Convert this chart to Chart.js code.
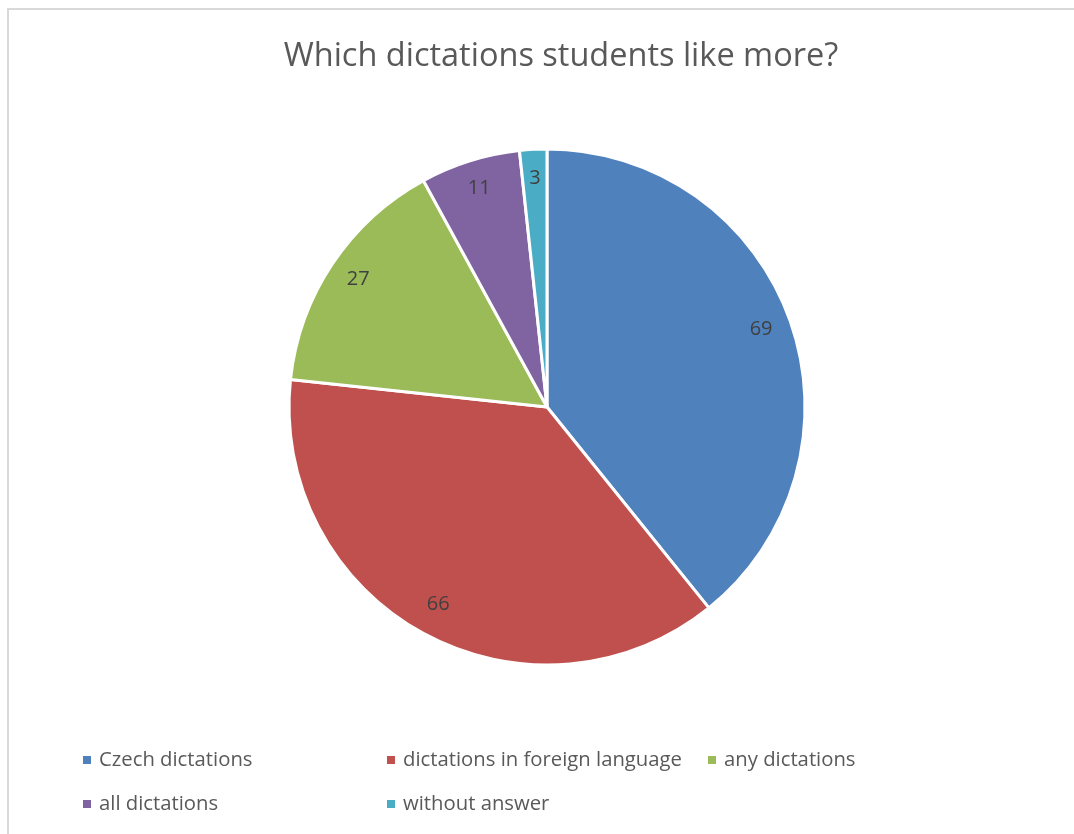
<!DOCTYPE html>
<html>
<head>
<meta charset="utf-8">
<script src="https://cdn.jsdelivr.net/npm/chart.js@4.4.0/dist/chart.umd.min.js"></script>
<style>
  html, body { margin: 0; padding: 0; background: #fff; overflow: hidden; }
  #wrap { position: relative; width: 1074px; height: 834px; }
  #frame { position: absolute; left: 7px; top: 8px; width: 1200px; height: 1000px;
           border: 2px solid #d9d9d9; box-sizing: border-box; }
  canvas { position: absolute; left: 0; top: 0; }
</style>
</head>
<body>
<div id="wrap">
  <div id="frame"></div>
  <canvas id="pieChart" width="1074" height="834"></canvas>
</div>
<script>
// data
const title = 'Which dictations students like more?';
const categories = ['Czech dictations', 'dictations in foreign language', 'any dictations', 'all dictations', 'without answer'];
const values = [69, 66, 27, 11, 3];
const colors = ['#4F81BD', '#C0504D', '#9BBB59', '#8064A2', '#4BACC6'];

const FONT = '"Open Sans", Lato, sans-serif';

// value labels inside slices
const sliceLabels = {
  id: 'sliceLabels',
  afterDatasetsDraw(chart) {
    const ctx = chart.ctx;
    const meta = chart.getDatasetMeta(0);
    ctx.save();
    ctx.font = '20px ' + FONT;
    ctx.fillStyle = '#404040';
    ctx.textAlign = 'center';
    ctx.textBaseline = 'middle';
    meta.data.forEach((arc, i) => {
      const mid = (arc.startAngle + arc.endAngle) / 2;
      const r = arc.outerRadius * 0.88;
      ctx.fillText(String(values[i]), arc.x + Math.cos(mid) * r, arc.y + Math.sin(mid) * r - 2);
    });
    ctx.restore();
  }
};

// title and Excel-like grid legend
const decorations = {
  id: 'decorations',
  afterDraw(chart) {
    const ctx = chart.ctx;
    ctx.save();
    ctx.fillStyle = '#595959';
    ctx.font = '32.5px ' + FONT;
    ctx.textAlign = 'center';
    ctx.textBaseline = 'middle';
    ctx.fillText(title, 561, 57);

    const cols = [83, 387, 708];
    const rows = [760, 804];
    ctx.font = '20.3px ' + FONT;
    ctx.textAlign = 'left';
    categories.forEach((c, i) => {
      const x = cols[i % 3];
      const y = rows[Math.floor(i / 3)];
      ctx.fillStyle = colors[i];
      ctx.fillRect(x, y - 4, 8, 8);
      ctx.fillStyle = '#595959';
      ctx.fillText(c, x + 16, y);
    });
    ctx.restore();
  }
};

new Chart(document.getElementById('pieChart'), {
  type: 'pie',
  data: {
    labels: categories,
    datasets: [{
      data: values,
      backgroundColor: colors,
      borderColor: '#ffffff',
      borderWidth: 3,
      radius: 258
    }]
  },
  options: {
    responsive: false,
    animation: false,
    layout: { padding: { left: 289, right: 269, top: 149, bottom: 169 } },
    plugins: {
      legend: { display: false },
      title: { display: false },
      tooltip: { enabled: false }
    }
  },
  plugins: [sliceLabels, decorations]
});
</script>
</body>
</html>
